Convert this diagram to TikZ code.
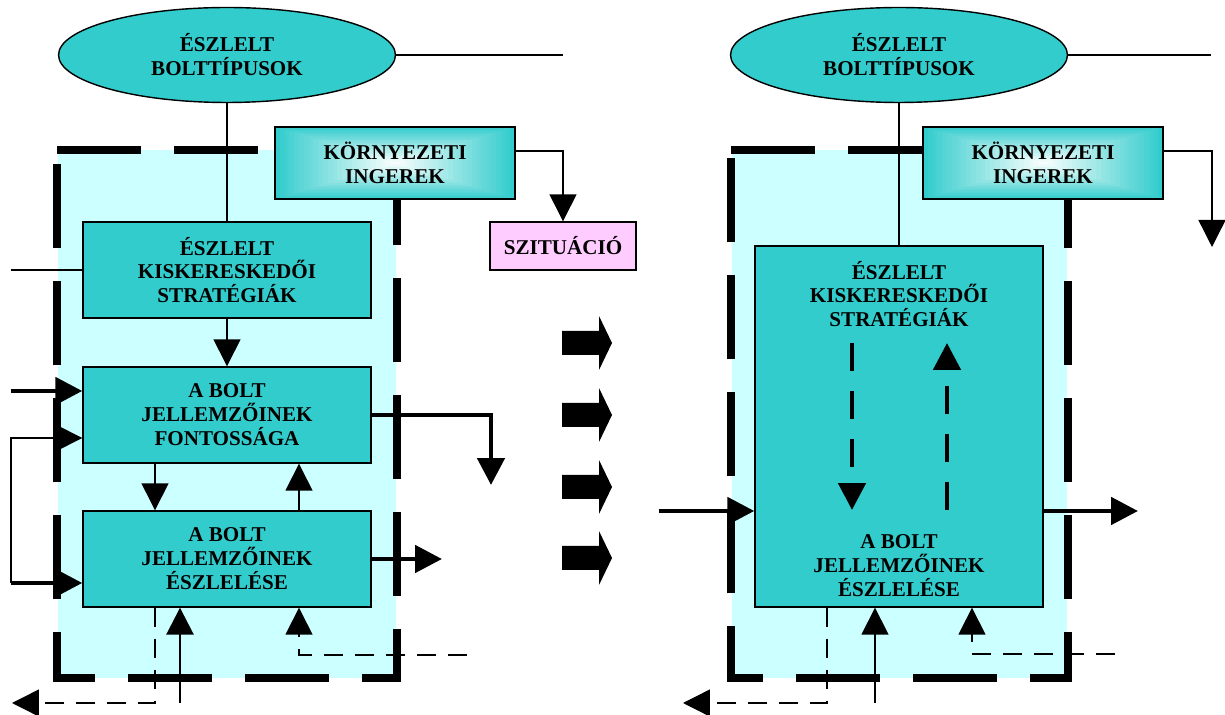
\documentclass[tikz,border=0pt]{standalone}
\usepackage{fontspec}
\setmainfont{Liberation Serif}
\usetikzlibrary{arrows.meta,positioning,calc,shapes.geometric}
\definecolor{tkcyan}{RGB}{51,204,204}
\definecolor{tklight}{RGB}{204,255,255}
\definecolor{tkpink}{RGB}{255,204,255}

\begin{document}
\begin{tikzpicture}[x=0.02cm,y=-0.02cm,>={Triangle[length=0.54cm,width=0.54cm]},
  txt/.style={align=center,inner sep=0pt,font=\bfseries\fontsize{12}{13.6}\selectfont},
  box/.style={txt,draw,line width=0.8pt,fill=tkcyan,minimum width=5.76cm,minimum height=1.92cm},
  oval/.style={box,ellipse,minimum width=6.74cm,minimum height=1.9cm},
  gbox/.style={box,minimum width=4.8cm,minimum height=1.44cm,
    path picture={\foreach \i in {0,...,24}{
      \pgfmathsetmacro{\p}{100-4*\i}
      \fill[tkcyan!\p!white] ($(path picture bounding box.south west)!\i/50!(path picture bounding box.north east)$)
        rectangle ($(path picture bounding box.north east)!\i/50!(path picture bounding box.south west)$);}}},
  ln/.style={line width=0.8pt},
  mid/.style={line width=1.6pt},
  fat/.style={line width=2.8pt},
  dsh/.style={ln,dash pattern=on 0.38cm off 0.24cm},
  fdsh/.style={fat,dash pattern=on 0.56cm off 0.4cm},
  bframe/.style={line width=4.5pt,dash pattern=on 1.68cm off 0.66cm}]
  \useasboundingbox (0,0) rectangle (1225,715);

  % light backgrounds and dashed frames
  \fill[tklight] (58,150) rectangle (396,678);
  \fill[tklight] (732,150) rectangle (1067,678);
  \draw[bframe] (57,150) -- (397,150) -- (397,678) -- (57,678) -- cycle;
  \draw[bframe] (731,150) -- (1068,150) -- (1068,678) -- (731,678) -- cycle;

  % left panel
  \node[oval](bt1) at (227,55){ÉSZLELT\\BOLTTÍPUSOK};
  \node[gbox](kor1) at (395,163){KÖRNYEZETI\\INGEREK};
  \node[box,fill=tkpink,minimum width=2.92cm,minimum height=0.96cm](sz) at (563,246){SZITUÁCIÓ};
  \node[box](st1) at (227,270){ÉSZLELT\\KISKERESKEDŐI\\STRATÉGIÁK};
  \node[box](fo1) at (227,415){A BOLT\\JELLEMZŐINEK\\FONTOSSÁGA};
  \node[box](es1) at (227,559){A BOLT\\JELLEMZŐINEK\\ÉSZLELÉSE};

  \coordinate (e1) at (563,55);
  \coordinate (w1) at (11,270);
  \coordinate (in1) at (11,391);
  \coordinate (lp) at (11,438);
  \coordinate (lq) at (11,583);
  \coordinate (o1) at (491,485);
  \coordinate (o2) at (442,559);
  \coordinate (d1) at (12,703);
  \coordinate (u1) at (180,703);
  \coordinate (d2) at (467,655);

  \draw[ln] (bt1.east) -- (e1);
  \draw[ln] (bt1.south) -- (st1.north);
  \draw[ln,->] (kor1.east |- 0,151) -| (sz.north);
  \draw[ln] (w1) -- (st1.west);
  \draw[ln,->] (st1.south) -- (fo1.north);
  \draw[fat,->] (in1) -- (in1 -| fo1.west);
  \draw[ln,->] (lq) -- (lp) -- (lp -| fo1.west);
  \draw[fat,->] (lq) -- (lq -| es1.west);
  \draw[fat,->] (fo1.east) -| (o1);
  \draw[fat,->] (es1.east) -- (o2);
  \draw[ln,->] ([xshift=-1.44cm]fo1.south) -- ([xshift=-1.44cm]es1.north);
  \draw[ln,->] ([xshift=1.44cm]es1.north) -- ([xshift=1.44cm]fo1.south);
  \draw[dsh,->] ([xshift=-1.44cm]es1.south) |- (d1);
  \draw[mid,->] (u1) -- (u1 |- es1.south);
  \draw[dsh,->] (d2) -| ([xshift=1.44cm]es1.south);

  % block arrows between the panels
  \foreach \y in {343,415,487,558}
    \fill (562,\y-12) -- (599,\y-12) -- (599,\y-27) -- (612,\y) -- (599,\y+27) -- (599,\y+12) -- (562,\y+12) -- cycle;

  % right panel
  \node[oval](bt2) at (899,55){ÉSZLELT\\BOLTTÍPUSOK};
  \node[gbox](kor2) at (1043,163){KÖRNYEZETI\\INGEREK};
  \node[box,minimum height=7.22cm](bx2) at (899,426.5){};
  \node[txt](st2) at (899,294){ÉSZLELT\\KISKERESKEDŐI\\STRATÉGIÁK};
  \node[txt](es2) at (899,566){A BOLT\\JELLEMZŐINEK\\ÉSZLELÉSE};

  \coordinate (e2) at (1211,55);
  \coordinate (s2) at (1212,247);
  \coordinate (in2) at (659,511);
  \coordinate (o3) at (1138,511);
  \coordinate (p1) at (852,343);
  \coordinate (p2) at (852,510);
  \coordinate (p3) at (947,510);
  \coordinate (p4) at (947,343);
  \coordinate (d3) at (683,703);
  \coordinate (u2) at (875,703);
  \coordinate (d4) at (1115,654);

  \draw[ln] (bt2.east) -- (e2);
  \draw[ln] (bt2.south) -- (bx2.north);
  \draw[ln,->] (kor2.east |- 0,151) -| (s2);
  \draw[fat,->] (in2) -- (in2 -| bx2.west);
  \draw[fat,->] (o3 -| bx2.east) -- (o3);
  \draw[fdsh,->] (p1) -- (p2);
  \draw[fdsh,->] (p3) -- (p4);
  \draw[dsh,->] ([xshift=-1.44cm]bx2.south) |- (d3);
  \draw[ln,->] (u2) -- (u2 |- bx2.south);
  \draw[dsh,->] (d4) -| ([xshift=1.46cm]bx2.south);
\end{tikzpicture}
\end{document}
